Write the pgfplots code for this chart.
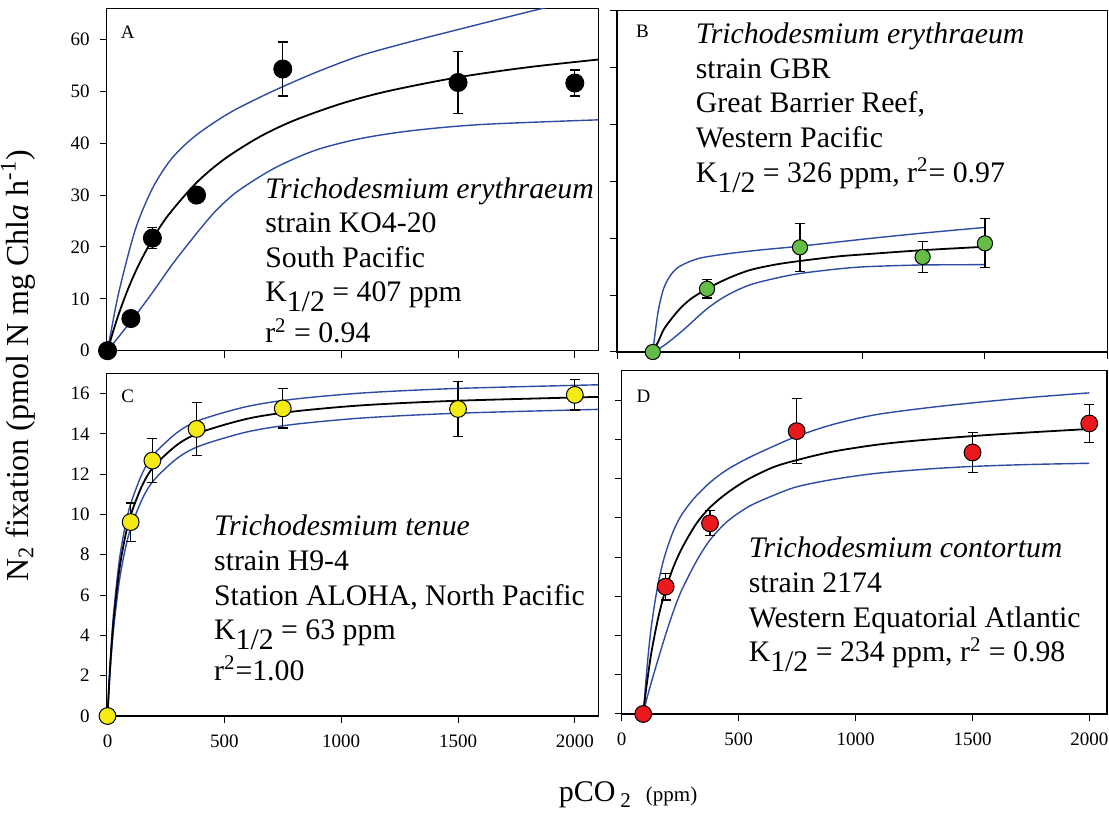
\documentclass[border=0pt]{standalone}
\usepackage{fontspec}
\setmainfont{Liberation Serif}
\usepackage{pgfplots}
\pgfplotsset{compat=1.18}
\definecolor{cblue}{RGB}{45,75,165}
\definecolor{cgreen}{RGB}{100,190,70}
\definecolor{cyellow}{RGB}{245,235,20}
\definecolor{cred}{RGB}{235,25,30}
\pgfplotsset{
  panel/.style={
    scale only axis, anchor=south west,
    tick pos=left, tick align=outside,
    major tick length=3.5pt,
    tick style={black, line width=0.5pt},
    axis line style={line width=0.6pt},
    ticklabel style={font=\fontsize{9.5}{9.5}\selectfont},
    yticklabel style={xshift=-1.5pt},
    xticklabel style={yshift=-2.5pt},
    /pgf/number format/assume math mode=true,
    /pgf/number format/1000 sep={},
    xtick={0,500,1000,1500,2000},
  },
  bluecurve/.style={cblue, line width=0.7pt, smooth, no marks},
  blackcurve/.style={black, line width=0.9pt, smooth, no marks},
  pts/.style 2 args={only marks, mark=*, mark size=#1, mark options={draw=black, fill=#2, line width=0.5pt},
    error bars/y dir=both, error bars/y explicit,
    error bars/error bar style={black, line width=0.6pt},
    error bars/error mark options={black, rotate=90, mark size=2.5pt, line width=0.6pt}},
}
\tikzset{
  paneltext/.style={anchor=north west, align=left, inner sep=0pt, font=\fontsize{14.9}{17.3}\selectfont},
  panelletter/.style={anchor=center, inner sep=0pt, font=\fontsize{9.5}{9.5}\selectfont},
}
\begin{document}
\begin{tikzpicture}
\path[use as bounding box] (0,0) rectangle (554.5pt,407pt);
% ---------------- A ----------------
\begin{axis}[panel, at={(53.3pt,231.65pt)}, width=245.8pt, height=171.2pt,
  xmin=-4, xmax=2100, ymin=0, ymax=66, ytick={0,10,20,30,40,50,60},
  xticklabels={}]
\addplot[bluecurve] coordinates {(0,0) (47,11) (118,23.2) (189,31.0) (260,36.2) (320,39.2) (381,41.6) (460,44.1) (544,46.4) (650,48.8) (750,50.9) (900,53.8) (1084,56.9) (1300,59.6) (1500,61.9) (1845,65.8) (2100,68.4)};
\addplot[bluecurve] coordinates {(0,0) (101,5.7) (189,11.0) (280,16.8) (381,22.6) (460,26.8) (544,30.3) (650,33.5) (750,36.0) (900,38.8) (1084,40.9) (1300,42.4) (1600,43.6) (2100,44.5)};
\addplot[blackcurve] coordinates {(0,0) (20,3.14) (40,6.00) (60,8.61) (90,12.13) (130,16.22) (190,21.32) (260,26.12) (380,32.35) (500,36.93) (650,41.20) (800,44.41) (1000,47.62) (1200,50.03) (1500,52.70) (1800,54.64) (2100,56.12)};
\addplot[pts={4.5pt}{black}] table[x index=0, y index=1, y error index=2] {
0 0 0
100 6.2 0.5
192 21.7 2.0
381 30.0 0.5
750 54.3 5.2
1500 51.7 6.0
2000 51.6 2.5
};
\node[panelletter] at (rel axis cs:0.043,0.931) {A};
\node[paneltext] at (rel axis cs:0.322,0.507) {\textit{Trichodesmium erythraeum}\\strain KO4-20\\South Pacific\\K\raisebox{-5pt}{1/2} = 407 ppm\\[3pt]r\textsuperscript{2} = 0.94};
\end{axis}
% ---------------- B ----------------
\begin{axis}[panel, at={(308.5pt,231pt)}, width=245.3pt, height=170.65pt,
  xmin=0, xmax=2000, ymin=0, ymax=60, ytick={0,10,20,30,40,50,60},
  xticklabels={}, yticklabels={}]
\addplot[bluecurve] coordinates {(146,0) (158,4.2) (168,7.2) (180,9.6) (194,11.6) (220,13.6) (257,15.1) (338,16.5) (474,17.4) (600,18.0) (746,18.6) (1018,19.9) (1246,20.9) (1500,21.9)};
\addplot[bluecurve] coordinates {(150,0) (200,1.4) (271,3.9) (367,7.6) (450,10.0) (542,11.8) (650,13.0) (746,13.8) (900,14.6) (1018,15.0) (1246,15.3) (1500,15.35)};
\addplot[blackcurve] coordinates {(146,0) (170,2.0) (194,4.2) (250,7.3) (300,9.3) (367,11.1) (450,12.9) (542,14.4) (650,15.4) (746,16.0) (900,16.8) (1018,17.2) (1246,17.9) (1500,18.5)};
\addplot[pts={3.8pt}{cgreen}] table[x index=0, y index=1, y error index=2] {
146 0 0
367 11.1 1.6
746 18.4 4.2
1246 16.7 2.7
1500 19.1 4.3
};
\node[panelletter] at (rel axis cs:0.052,0.941) {B};
\node[paneltext] at (rel axis cs:0.160,0.965) {\textit{Trichodesmium erythraeum}\\strain GBR\\Great Barrier Reef,\\Western Pacific\\K\raisebox{-5pt}{1/2} = 326 ppm, r\textsuperscript{2}= 0.97};
\end{axis}
% ---------------- C ----------------
\begin{axis}[panel, at={(53.3pt,49pt)}, width=245.8pt, height=171.35pt,
  xmin=-4, xmax=2100, ymin=0, ymax=17, ytick={0,2,4,6,8,10,12,14,16}]
\addplot[bluecurve] coordinates {(0,0) (10,2.41) (25,4.97) (50,7.68) (75,9.39) (100,10.56) (150,12.07) (200,13.0) (300,14.08) (400,14.70) (600,15.36) (800,15.72) (1100,16.03) (1500,16.25) (2100,16.43)};
\addplot[bluecurve] coordinates {(0,0) (10,2.01) (25,4.22) (50,6.65) (75,8.23) (100,9.35) (150,10.80) (200,11.72) (300,12.80) (400,13.42) (600,14.10) (800,14.47) (1100,14.79) (1500,15.02) (2100,15.21)};
\addplot[blackcurve] coordinates {(0,0) (10,2.23) (25,4.63) (50,7.21) (75,8.86) (100,10.0) (150,11.48) (200,12.40) (300,13.47) (400,14.08) (600,14.75) (800,15.11) (1100,15.42) (1500,15.64) (2100,15.83)};
\addplot[pts={4.2pt}{cyellow}] table[x index=0, y index=1, y error index=2] {
0 0 0
99 9.62 0.95
192 12.67 1.1
381 14.24 1.3
750 15.26 0.97
1500 15.23 1.35
2000 15.93 0.75
};
\node[panelletter] at (rel axis cs:0.043,0.932) {C};
\node[paneltext] at (rel axis cs:0.218,0.587) {\textit{Trichodesmium tenue}\\strain H9-4\\Station ALOHA, North Pacific\\K\raisebox{-5pt}{1/2} = 63 ppm\\[3pt]r\textsuperscript{2}=1.00};
\end{axis}
% ---------------- D ----------------
\begin{axis}[panel, at={(310.85pt,50pt)}, width=242.65pt, height=171.65pt,
  xmin=0, xmax=2075, ymin=0, ymax=17.5, ytick={0,2,4,6,8,10,12,14,16},
  yticklabels={}]
\addplot[bluecurve] coordinates {(92,0) (110,2.6) (125,4.3) (142,5.7) (160,6.9) (185,8.1) (220,9.3) (256,10.15) (310,11.0) (377.5,11.8) (450,12.45) (541,13.05) (640,13.6) (748,14.15) (900,14.75) (1083,15.25) (1300,15.6) (1500,15.86) (1750,16.14) (1999,16.37)};
\addplot[bluecurve] coordinates {(92,0) (110,0.9) (142,2.24) (185,3.94) (220,5.2) (256,6.3) (320,7.8) (377.5,8.87) (450,9.8) (541,10.56) (640,11.1) (748,11.58) (900,11.95) (1083,12.26) (1300,12.48) (1500,12.62) (1750,12.72) (1999,12.78)};
\addplot[blackcurve] coordinates {(92,0) (100,0.84) (110,1.77) (125,3.00) (140,3.97) (160,5.11) (185,6.23) (220,7.46) (260,8.51) (320,9.72) (377.5,10.53) (450,11.26) (541,11.97) (650,12.59) (748,12.94) (900,13.37) (1100,13.74) (1300,13.98) (1600,14.25) (2000,14.53)};
\addplot[pts={4.2pt}{cred}] table[x index=0, y index=1, y error index=2] {
92 0 0
188 6.49 0.68
377.5 9.72 0.64
748 14.42 1.65
1500 13.33 1.0
1999 14.81 0.98
};
\node[panelletter] at (rel axis cs:0.045,0.926) {D};
\node[paneltext] at (rel axis cs:0.261,0.516) {\textit{Trichodesmium contortum}\\strain 2174\\Western Equatorial Atlantic\\K\raisebox{-5pt}{1/2} = 234 ppm, r\textsuperscript{2} = 0.98};
\end{axis}
% ---------------- labels ----------------
\node[rotate=90, anchor=center, inner sep=0pt, font=\fontsize{16}{16}\selectfont] at (9pt,224pt) {N\textsubscript{2} fixation (pmol N mg Chl\textit{a} h\textsuperscript{-1})};
\node[anchor=base, inner sep=0pt] at (314pt,6.2pt) {\fontsize{15}{15}\selectfont pCO\,\raisebox{-3pt}{\fontsize{10.5}{10.5}\selectfont 2}\ \ {\fontsize{10.5}{10.5}\selectfont (ppm)}};
\end{tikzpicture}
\end{document}
